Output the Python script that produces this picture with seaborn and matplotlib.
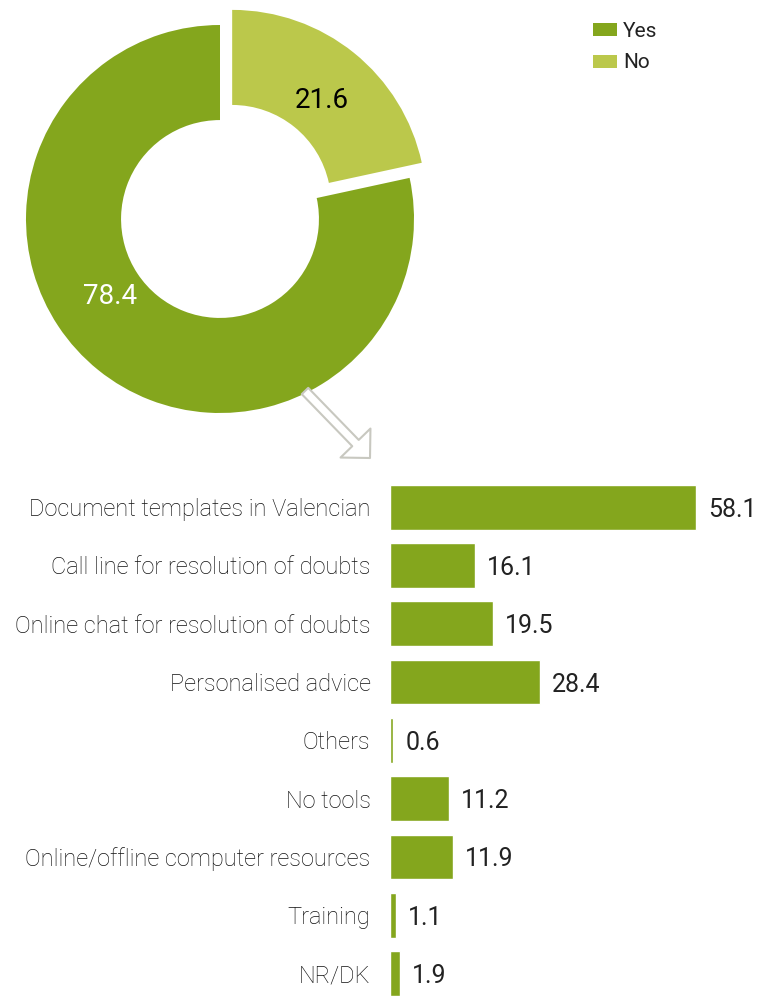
import matplotlib
matplotlib.use("Agg")
import matplotlib.pyplot as plt
import seaborn as sns
from matplotlib.patches import Patch, FancyArrowPatch

# donut data
pie_labels = ["Yes", "No"]
pie_values = [78.4, 21.6]

# bar data
categories = [
    "Document templates in Valencian",
    "Call line for resolution of doubts",
    "Online chat for resolution of doubts",
    "Personalised advice",
    "Others",
    "No tools",
    "Online/offline computer resources",
    "Training",
    "NR/DK",
]
values = [58.1, 16.1, 19.5, 28.4, 0.6, 11.2, 11.9, 1.1, 1.9]

dark_green = "#84A61D"
light_green = "#BBC84B"
text_col = "#222222"

sns.set_theme(style="white")
plt.rcParams["font.family"] = ["Roboto", "DejaVu Sans"]

W, H = 758, 996
fig = plt.figure(figsize=(W / 100, H / 100), dpi=100)

# ---- donut ----
R = 194
cx, cy = 220, 219
half = 1.2 * R
pax = fig.add_axes([(cx - half) / W, (H - cy - half) / H, 2 * half / W, 2 * half / H])
# No first, clockwise from 12 o'clock
wedges, _ = pax.pie(
    [pie_values[1], pie_values[0]],
    colors=[light_green, dark_green],
    startangle=90,
    counterclock=False,
    explode=[0.1, 0],
    wedgeprops=dict(width=0.49, linewidth=0),
)
pax.set_xlim(-1.2, 1.2)
pax.set_ylim(-1.2, 1.2)
pax.set_aspect("equal")
pax.axis("off")
pax.text(0.526, 0.613, f"{pie_values[1]}", ha="center", va="center",
         fontsize=20, color="black")
pax.text(-0.567, -0.397, f"{pie_values[0]}", ha="center", va="center",
         fontsize=20, color="white")

handles = [Patch(facecolor=dark_green, edgecolor="none"),
           Patch(facecolor=light_green, edgecolor="none")]
fig.legend(handles, pie_labels, loc="upper left",
           bbox_to_anchor=(593 / W, 1 - 22 / H), frameon=False,
           fontsize=15, handlelength=1.15, handleheight=0.6,
           handletextpad=0.3, labelspacing=0.6, borderpad=0,
           borderaxespad=0, labelcolor=text_col)

# arrow
arrow = FancyArrowPatch(
    (305 / W, 1 - 391 / H), (370 / W, 1 - 458 / H),
    transform=fig.transFigure,
    arrowstyle="simple,head_length=15,head_width=30,tail_width=6.5",
    mutation_scale=1, shrinkA=0, shrinkB=0,
    facecolor="white", edgecolor="#C8C8C0", linewidth=1.5,
)
fig.patches.append(arrow)

# ---- bars ----
left_px, top_px = 390, 478
bax = fig.add_axes([left_px / W, 0, (W - left_px) / W, (H - top_px) / H])
sns.barplot(x=values, y=categories, ax=bax, color=dark_green,
            saturation=1, width=0.77, orient="h")
bax.set_xlim(0, (W - left_px) / 5.27)
bax.set_ylim(8.385, -0.5)
for i, v in enumerate(values):
    bax.text(v + 2.3, i, f"{v}", va="center_baseline", ha="left",
             fontsize=18, color=text_col)
bax.tick_params(axis="y", length=0, pad=14, labelsize=17, labelcolor="#111111")
bax.set_xticks([])
bax.set_xlabel("")
bax.set_ylabel("")
for s in bax.spines.values():
    s.set_visible(False)
for lbl in bax.get_yticklabels():
    lbl.set_fontweight("light")

fig.savefig("out.png", dpi=100)
